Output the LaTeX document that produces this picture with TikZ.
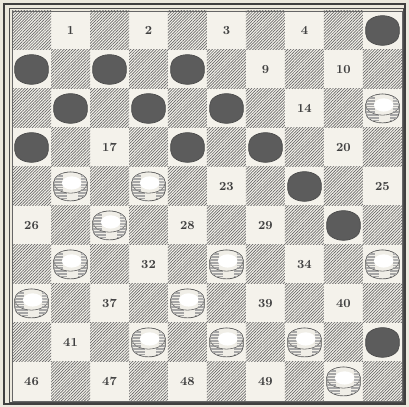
\documentclass[tikz,border=0pt]{standalone}
\usetikzlibrary{patterns.meta}
\definecolor{paper}{RGB}{236,233,222}
\definecolor{lightsq}{RGB}{244,242,235}
\definecolor{hatch}{RGB}{105,105,105}
\definecolor{blackfill}{RGB}{92,92,92}
\definecolor{whitefill}{RGB}{240,238,231}

\tikzset{
  blackpiece/.pic={
    \filldraw[fill=blackfill, draw=black!70, line width=0.5pt]
      (-0.43,0.08) arc[start angle=180, end angle=0, x radius=0.43, y radius=0.3]
      -- (0.43,-0.08) arc[start angle=0, end angle=-180, x radius=0.43, y radius=0.3] -- cycle;
  },
  whitepiece/.pic={
    \filldraw[fill=whitefill, draw=black!70, line width=0.5pt]
      (-0.43,0.1) arc[start angle=180, end angle=0, x radius=0.43, y radius=0.27]
      -- (0.43,-0.1) arc[start angle=0, end angle=-180, x radius=0.43, y radius=0.27] -- cycle;
    \begin{scope}
      \clip (-0.43,0.1) -- (0.43,0.1) -- (0.43,-0.1)
        arc[start angle=0, end angle=-180, x radius=0.43, y radius=0.27] -- cycle;
      \foreach \y in {-0.34,-0.30,...,0.1} {
        \draw[black!35, line width=0.3pt] (-0.43,\y) -- (-0.1,\y);
        \draw[black!35, line width=0.3pt] (0.2,\y) -- (0.43,\y);
      }
    \end{scope}
    \filldraw[fill=whitefill, draw=black!65, line width=0.4pt] (0,0.1) ellipse[x radius=0.43, y radius=0.27];
    \begin{scope}
      \clip (0,0.1) ellipse[x radius=0.43, y radius=0.27];
      \foreach \y in {-0.14,-0.1,...,0.36} {
        \draw[black!35, line width=0.3pt] (-0.43,\y) -- (-0.2,\y);
        \draw[black!30, line width=0.3pt] (0.26,\y) -- (0.43,\y);
      }
    \end{scope}
    \fill[white] (0.03,0.09) ellipse[x radius=0.25, y radius=0.17];
  }
}

\begin{document}
\begin{tikzpicture}[
  darksq/.style={pattern={Lines[angle=45, distance=1.5pt, line width=0.5pt]}, pattern color=hatch},
  num/.style={font=\fontsize{9}{10}\selectfont\bfseries, text=black!75, inner sep=0pt}
  ]
\useasboundingbox[fill=paper] (-0.308,0.282) rectangle (10.18,-10.154);
% frame
\draw[line width=1.6pt, black!75] (-0.2,0.18) rectangle (10.08,-10.08);
\draw[line width=0.5pt, black!70] (-0.07,0.06) rectangle (10.03,-10.03);
% squares
\fill[lightsq] (0,0) rectangle (10,-10);
\foreach \r in {0,...,9}
  \foreach \c in {0,...,9} {
    \pgfmathtruncatemacro{\odd}{mod(\r+\c,2)}
    \ifnum\odd=0
      \fill[darksq] (\c,-\r) rectangle ++(1,-1);
    \fi
  }
\draw[black!60, line width=0.3pt] (0,0) rectangle (10,-10);
% empty squares
\foreach \n in {1,2,3,4,9,10,14,17,20,23,25,26,28,29,32,34,37,39,40,41,46,47,48,49} {
  \pgfmathtruncatemacro{\r}{(\n-1)/5}
  \pgfmathtruncatemacro{\c}{2*mod(\n-1,5)+1-mod(\r,2)}
  \node[num] (n\n) at (\c+0.5,-\r-0.5) {\n};
}
% black men
\foreach \n in {5,6,7,8,11,12,13,16,18,19,24,30,45} {
  \pgfmathtruncatemacro{\r}{(\n-1)/5}
  \pgfmathtruncatemacro{\c}{2*mod(\n-1,5)+1-mod(\r,2)}
  \pic (b\n) at (\c+0.5,-\r-0.5) {blackpiece};
}
% white men
\foreach \n in {15,21,22,27,31,33,35,36,38,42,43,44,50} {
  \pgfmathtruncatemacro{\r}{(\n-1)/5}
  \pgfmathtruncatemacro{\c}{2*mod(\n-1,5)+1-mod(\r,2)}
  \pic (w\n) at (\c+0.5,-\r-0.5) {whitepiece};
}
\end{tikzpicture}
\end{document}
